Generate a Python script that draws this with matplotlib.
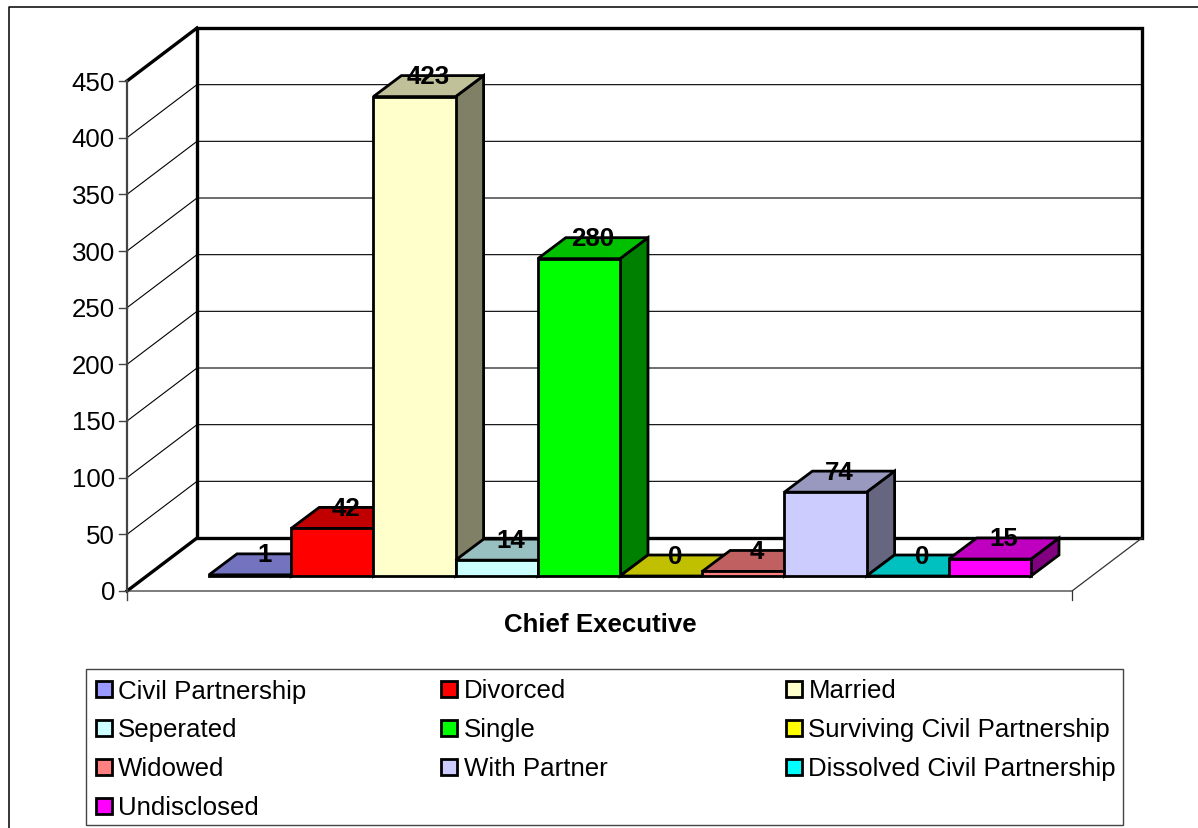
"""
3-D style column chart of marital status, Chief Executive.
"""
import matplotlib
matplotlib.use('Agg')
import matplotlib.pyplot as plt
from matplotlib.patches import Polygon, Rectangle

plt.rcParams.update({
    "font.family": ["Liberation Sans", "DejaVu Sans"],
    "font.size": 18.6,
})

categories = ['Civil Partnership', 'Divorced', 'Married', 'Seperated', 'Single',
              'Surviving Civil Partnership', 'Widowed', 'With Partner',
              'Dissolved Civil Partnership', 'Undisclosed']
values = [1, 42, 423, 14, 280, 0, 4, 74, 0, 15]
front_colors = ['#9999FF', '#FF0000', '#FFFFCC', '#CCFFFF', '#00FF00',
                '#FFFF00', '#FF8080', '#CCCCFF', '#00FFFF', '#FF00FF']
top_colors = ['#7373C0', '#C00000', '#C0C099', '#99C0C0', '#00C000',
              '#C0C000', '#C06060', '#9999C0', '#00C0C0', '#C000C0']
side_colors = ['#4D4D80', '#800000', '#808066', '#668080', '#008000',
               '#808000', '#804040', '#666680', '#008080', '#800080']
y_ticks = [0, 50, 100, 150, 200, 250, 300, 350, 400, 450]
x_label = 'Chief Executive'

W, H = 1198, 829
X0, Y0 = 127, 592          # front corner of the floor
FLOOR_W = 945
WALL_DX, WALL_DY = 70, -53
PX_PER_UNIT = 510 / 450
BAR_X0, BAR_W = 209, 82.2
BAR_BASE = 577
BAR_DX, BAR_DY = 28, -21
LW_BAR = 2.0


def yv(v):
    return Y0 - v * PX_PER_UNIT


fig = plt.figure(figsize=(W / 100, H / 100), dpi=100)
ax = fig.add_axes([0, 0, 1, 1])
ax.set_xlim(0, W)
ax.set_ylim(H, 0)
ax.axis('off')

# outer chart frame
ax.plot([8.5, 8.5, W], [H, 7.5, 7.5], color='black', lw=1.1)

# back wall + gridlines
top = yv(y_ticks[-1])
ax.add_patch(Polygon([(X0 + WALL_DX, Y0 + WALL_DY), (X0 + WALL_DX, top + WALL_DY),
                      (X0 + WALL_DX + FLOOR_W, top + WALL_DY),
                      (X0 + WALL_DX + FLOOR_W, Y0 + WALL_DY)],
                     closed=True, fc='white', ec='black', lw=2.4, zorder=1))
for v in y_ticks[1:-1]:
    ax.plot([X0, X0 + WALL_DX, X0 + WALL_DX + FLOOR_W],
            [yv(v), yv(v) + WALL_DY, yv(v) + WALL_DY], color='black', lw=0.8, zorder=1.5)

# left side wall, floor edges
ax.plot([X0, X0 + WALL_DX], [top, top + WALL_DY], color='black', lw=2.4, zorder=2)
ax.plot([X0, X0 + WALL_DX], [Y0, Y0 + WALL_DY], color='black', lw=2.4, zorder=2)
ax.plot([X0, X0], [Y0, top], color='#444444', lw=1.6, zorder=2)
ax.plot([X0, X0 + FLOOR_W, X0 + FLOOR_W + WALL_DX], [Y0, Y0, Y0 + WALL_DY],
        color='#333333', lw=0.9, zorder=2)
ax.plot([X0, X0], [Y0, Y0 + 9], color='#444444', lw=1.0, zorder=2)
ax.plot([X0 + FLOOR_W, X0 + FLOOR_W], [Y0, Y0 + 9], color='#333333', lw=0.9, zorder=2)

for v in y_ticks:
    ax.plot([X0 - 8, X0], [yv(v), yv(v)], color='#444444', lw=1.0, zorder=2)
    ax.text(X0 - 12, yv(v) + 8.5, str(v), ha='right', va='baseline', fontsize=18.6, zorder=6)

# bars, drawn left to right so each front overlaps the previous side
for i, v in enumerate(values):
    x = BAR_X0 + i * BAR_W
    h = v * PX_PER_UNIT
    yt = BAR_BASE - h
    z = 3 + i * 0.01
    ax.add_patch(Polygon([(x + BAR_W, yt), (x + BAR_W + BAR_DX, yt + BAR_DY),
                          (x + BAR_W + BAR_DX, BAR_BASE + BAR_DY), (x + BAR_W, BAR_BASE)],
                         closed=True, fc=side_colors[i], ec='black', lw=LW_BAR, zorder=z, joinstyle='miter'))
    ax.add_patch(Polygon([(x, yt), (x + BAR_DX, yt + BAR_DY),
                          (x + BAR_W + BAR_DX, yt + BAR_DY), (x + BAR_W, yt)],
                         closed=True, fc=top_colors[i], ec='black', lw=LW_BAR, zorder=z, joinstyle='miter'))
    ax.add_patch(Rectangle((x, yt), BAR_W, h, fc=front_colors[i], ec='black', lw=LW_BAR, zorder=z))

# data labels on top of everything
for i, v in enumerate(values):
    x = BAR_X0 + i * BAR_W
    yt = BAR_BASE - v * PX_PER_UNIT
    ax.text(x + BAR_W / 2 + BAR_DX / 2, yt + BAR_DY + 0.5, str(v), ha='center', va='center',
            fontsize=18.6, fontweight='bold', zorder=7)

ax.text(600, 625, x_label, ha='center', va='center', fontsize=18.6, fontweight='bold')

# legend box
ax.add_patch(Rectangle((86, 670), 1037, 156, fc='white', ec='#444444', lw=1.0, zorder=1))
col_x = [95.5, 441, 786]
row_y = [690, 729, 768, 807]
for i, name in enumerate(categories):
    cx, cy = col_x[i % 3], row_y[i // 3]
    ax.add_patch(Rectangle((cx, cy - 8), 16, 16, fc=front_colors[i], ec='black', lw=2.0, zorder=2))
    ax.text(cx + 22.5, cy + 8.5, name, ha='left', va='baseline', fontsize=18.6, zorder=2)

fig.savefig('out.png', dpi=100)
